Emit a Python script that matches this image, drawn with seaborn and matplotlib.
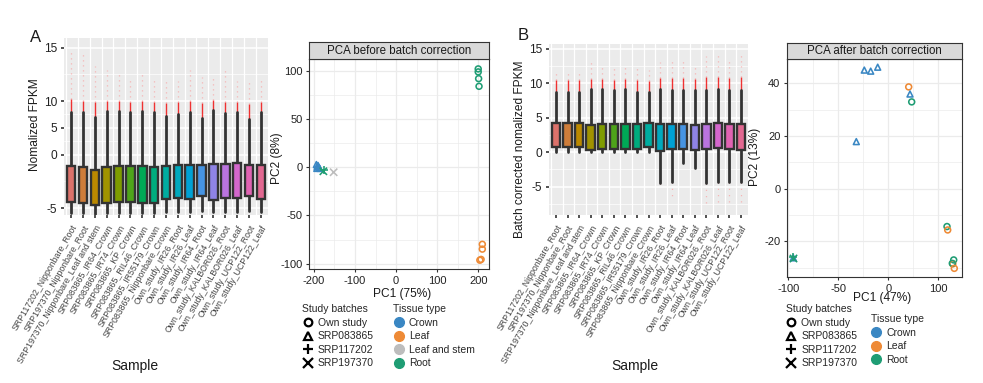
import numpy as np
import matplotlib
matplotlib.use("Agg")
import matplotlib.pyplot as plt
import seaborn as sns
import pandas as pd
from matplotlib.lines import Line2D
from matplotlib.ticker import FixedLocator, FuncFormatter, NullFormatter

# -----------------------------
# Data
# -----------------------------
samples = [
    "SRP117202_Nipponbare_Root", "SRP197370_Nipponbare_Root",
    "SRP197370_Nipponbare_Leaf and stem", "SRP083865_IR64_Crown",
    "SRP083865_IR74_Crown", "SRP083865_KP_Crown", "SRP083865_RIL46_Crown",
    "SRP083865_IR55179_Crown", "SRP083865_Nipponbare_Crown",
    "Own_study_IR26_Root", "Own_study_IR26_Leaf", "Own_study_IR64_Root",
    "Own_study_IR64_Leaf", "Own_study_KALBOR026_Root",
    "Own_study_KALBOR026_Leaf", "Own_study_UCP122_Root", "Own_study_UCP122_Leaf",
]
batch = ["SRP117202", "SRP197370", "SRP197370"] + ["SRP083865"] * 6 + ["Own study"] * 8
tissue = ["Root", "Root", "Leaf and stem"] + ["Crown"] * 6 + ["Root", "Leaf"] * 4

# panel A: normalized FPKM (box summary)
a_q1 = [-4.41, -4.51, -4.72, -4.51, -4.44, -4.44, -4.51, -4.51, -4.20,
        -4.10, -4.20, -3.89, -4.26, -4.10, -4.04, -3.89, -4.20]
a_med = [-2.65, -2.72, -3.12, -2.72, -2.65, -2.72, -2.72, -2.72, -2.53,
         -2.41, -2.41, -2.41, -2.25, -2.35, -2.25, -2.41, -2.41]
a_q3 = [-1.08, -1.17, -1.48, -1.17, -1.11, -1.11, -1.11, -1.17, -1.08,
        -0.96, -0.96, -1.02, -0.86, -0.86, -0.80, -1.02, -0.96]
a_whislo = [-5.5, -5.5, -5.6, -5.5, -5.5, -5.5, -5.5, -5.5, -5.4,
            -5.4, -5.4, -5.3, -5.4, -5.4, -5.4, -5.3, -5.4]
a_whishi = [7.9, 7.9, 7.0, 8.2, 8.2, 7.9, 8.2, 8.0, 7.25,
            7.6, 7.9, 6.8, 8.4, 7.8, 7.9, 6.6, 7.9]
a_out_dense = [10.2, 10.0, 9.8, 10.0, 10.0, 9.9, 10.0, 9.9, 9.7,
               9.8, 10.0, 9.6, 10.1, 9.9, 9.9, 9.5, 9.9]
a_out_max = [14.85, 14.6, 13.3, 12.9, 12.8, 12.3, 12.7, 12.3, 11.9,
             11.85, 12.9, 12.3, 12.4, 12.9, 11.9, 12.1, 12.2]

# panel B: batch corrected normalized FPKM (box summary)
b_q1 = [0.72, 0.72, 0.72, 0.35, 0.49, 0.49, 0.49, 0.49, 0.82,
        0.24, 0.49, 0.49, 0.35, 0.49, 0.63, 0.49, 0.35]
b_med = [2.74, 2.74, 2.74, 2.50, 2.65, 2.65, 2.65, 2.65, 2.88,
         2.50, 2.50, 2.50, 2.50, 2.50, 2.65, 2.65, 2.65]
b_q3 = [4.18, 4.18, 4.18, 3.94, 4.09, 4.09, 4.09, 4.09, 4.18,
        4.09, 4.09, 4.09, 3.94, 4.09, 4.18, 4.09, 4.09]
b_whislo = [0.0, 0.0, 0.0, 0.0, 0.0, 0.0, 0.0, 0.0, 0.0,
            -4.47, -4.3, -1.6, -2.25, -4.47, -4.3, -4.3, -4.3]
b_whishi = [8.75, 8.75, 8.75, 9.2, 9.2, 9.0, 9.2, 8.75, 8.75,
            9.2, 9.0, 9.0, 9.0, 9.0, 9.2, 9.0, 9.0]
b_out_dense = [10.5, 10.5, 10.5, 10.6, 10.6, 10.5, 10.6, 10.5, 10.4,
               10.8, 10.8, 10.7, 10.6, 10.9, 10.9, 10.8, 10.9]
b_out_max = [12.0, 12.0, 12.0, 13.1, 12.8, 12.2, 12.8, 12.3, 12.0,
             13.1, 13.2, 13.2, 12.6, 13.9, 14.1, 13.7, 14.1]
b_out_min = [np.nan] * 9 + [-5.4, -6.8, np.nan, np.nan, -7.5, -7.9, -7.6, -7.8]

# PCA coordinates
pc1_before = [-176, -177, -152, -194, -192, -190, -188, -193, -186,
              200, 210, 200, 210, 201, 204, 202, 207]
pc2_before = [-3, -4, -5, 3, 1, 2, 0, -1, -1,
              102.5, -80, 99.4, -85, 92.4, -96.5, 84.4, -95.7]
pc1_after = [-95, -95, np.nan, -24, -17.6, -10.6, -32, 43.4, -95,
             46.8, 40.8, 117.4, 118.8, 130.8, 129, 128, 132]
pc2_after = [-26, -26.5, np.nan, 45.1, 44.7, 46.2, 17.9, 36, -26.3,
             33, 38.7, -14.4, -15.7, -27.1, -28.6, -28.4, -30.3]

batch_markers = {"Own study": "o", "SRP083865": "^", "SRP117202": "+", "SRP197370": "x"}
tissue_colors = {"Crown": "#3A87C3", "Leaf": "#EE8A36",
                 "Leaf and stem": "#BDBDBD", "Root": "#1F9D74"}


def hue_pal(n, c=80, l=60):
    # ggplot2-style discrete palette (HCL hues), a little muted
    out = []
    for h in np.linspace(15, 375, n + 1)[:-1]:
        hr = np.deg2rad(h)
        U, V = c * np.cos(hr), c * np.sin(hr)
        XN, YN, ZN = 95.047, 100.0, 108.883
        Y = YN * ((l + 16) / 116) ** 3
        t = XN + YN + ZN
        x, y = XN / t, YN / t
        uN = 2 * x / (6 * y - x + 1.5)
        vN = 4.5 * y / (6 * y - x + 1.5)
        Q = U / (13 * l) + uN
        R = V / (13 * l) + vN
        X = 9.0 * Y * Q / (4.0 * R)
        Z = -X / 3.0 - 5.0 * Y + 3.0 * Y / R
        rgb = np.array([3.240479 * X - 1.537150 * Y - 0.498535 * Z,
                        -0.969256 * X + 1.875992 * Y + 0.041556 * Z,
                        0.055648 * X - 0.204043 * Y + 1.057311 * Z]) / YN
        rgb = np.where(rgb <= 0.0031308, 12.92 * rgb, 1.055 * np.abs(rgb) ** (1 / 2.4) - 0.055)
        out.append(tuple(np.clip(rgb, 0, 1)))
    return out


box_colors = hue_pal(len(samples))

# -----------------------------
# Figure
# -----------------------------
sns.set_theme(style="white")
plt.rcParams["font.family"] = ["Liberation Sans", "DejaVu Sans"]
plt.rcParams["axes.unicode_minus"] = False

W, H = 983, 383
fig = plt.figure(figsize=(W / 100, H / 100), dpi=100)


def px_axes(x0, y0, x1, y1):
    return fig.add_axes([x0 / W, 1 - y1 / H, (x1 - x0) / W, (y1 - y0) / H])


def draw_box(ax, q1, med, q3, lo, hi, dense, omax, omin=None):
    pos = np.arange(len(samples))
    ax.set_facecolor("#EBEBEB")
    for s in ax.spines.values():
        s.set_visible(False)
    ax.vlines(pos, hi, dense, colors="#F01010", lw=1.0, alpha=0.85, zorder=1.5)
    ax.vlines(pos, dense, omax, colors="#FF8080", lw=0.9, alpha=0.5,
              linestyles=(0, (1, 3)), zorder=1.5)
    if omin is not None:
        ax.vlines(pos, lo, omin, colors="#FF8080", lw=0.9, alpha=0.5,
                  linestyles=(0, (1, 4)), zorder=1.5)
    stats = [dict(med=m, q1=a, q3=b, whislo=w1, whishi=w2, fliers=[])
             for a, m, b, w1, w2 in zip(q1, med, q3, lo, hi)]
    bp = ax.bxp(stats, positions=pos, widths=0.72, patch_artist=True,
                showfliers=False, showcaps=False,
                boxprops=dict(edgecolor="#333333", linewidth=1.7),
                medianprops=dict(color="#333333", linewidth=2.6, solid_capstyle="butt"),
                whiskerprops=dict(color="#333333", linewidth=2.0))
    for patch, col in zip(bp["boxes"], box_colors):
        patch.set_facecolor(col)
        patch.set_zorder(3)
    ax.set_xlim(-0.6, len(samples) - 0.4)
    ax.set_xticks(pos)
    ax.set_xticklabels(samples, rotation=60, ha="right", va="top",
                       rotation_mode="anchor")
    ax.xaxis.set_minor_locator(FixedLocator(pos - 0.43))
    ax.grid(False)
    ax.grid(which="minor", axis="x", color="white", lw=0.9)
    ax.grid(which="major", axis="y", color="white", lw=1.1)
    ax.grid(which="minor", axis="y", color="white", lw=0.5)
    ax.set_axisbelow(True)
    ax.tick_params(which="major", length=2, width=1.2, color="#333333",
                   bottom=True, left=True)
    ax.tick_params(axis="y", labelsize=8.6, labelcolor="#222222", pad=3)
    ax.tick_params(axis="x", labelsize=6.3, labelcolor="#444444", pad=4)
    ax.tick_params(which="minor", length=0)


# ---- Panel A: boxplot with stretched scale
axA = px_axes(64, 38, 268, 215)
axA.set_yscale("function", functions=(
    lambda v: np.interp(v, [-1e3, 0, 10, 1e3], [-1e3, 0, 5, 995]),
    lambda p: np.interp(p, [-1e3, 0, 5, 995], [-1e3, 0, 10, 1e3])))
draw_box(axA, a_q1, a_med, a_q3, a_whislo, a_whishi, a_out_dense, a_out_max)
axA.set_ylim(-5.65, 15.9)
axA.yaxis.set_major_locator(FixedLocator([-5, 0, 5, 10, 15]))
axA.yaxis.set_minor_locator(FixedLocator([-2.5, 2.5, 7.5, 12.5]))
axA.yaxis.set_major_formatter(FuncFormatter(lambda v, p: f"{v:g}"))
axA.yaxis.set_minor_formatter(NullFormatter())

# ---- Panel B: boxplot
axB = px_axes(549, 44, 748, 215)
draw_box(axB, b_q1, b_med, b_q3, b_whislo, b_whishi, b_out_dense, b_out_max, b_out_min)
axB.set_ylim(-9.1, 15.7)
axB.yaxis.set_major_locator(FixedLocator([-5, 0, 5, 10, 15]))
axB.yaxis.set_minor_locator(FixedLocator([-7.5, -2.5, 2.5, 7.5, 12.5]))


# ---- PCA panels
def draw_pca(ax, sax, x, y, title):
    df = pd.DataFrame({"PC1": x, "PC2": y, "batch": batch, "tissue": tissue}).dropna()
    ax.set_facecolor("white")
    for b, m in batch_markers.items():
        sub = df[df["batch"] == b]
        if sub.empty:
            continue
        sns.scatterplot(data=sub, x="PC1", y="PC2", hue="tissue", palette=tissue_colors,
                        marker=m, s=18 if m in "o^" else 28, linewidth=1.15,
                        legend=False, ax=ax, zorder=3)
        coll = ax.collections[-1]
        if m in "o^":
            coll.set_edgecolors(coll.get_facecolors())
            coll.set_facecolors("none")
    for s in ax.spines.values():
        s.set_color("#333333")
        s.set_linewidth(0.8)
    ax.grid(which="major", color="#EBEBEB", lw=0.9)
    ax.grid(which="minor", color="#EBEBEB", lw=0.5)
    ax.set_axisbelow(True)
    ax.tick_params(which="major", length=2.5, width=0.8, color="#333333",
                   labelsize=8, labelcolor="#222222", pad=2, bottom=True, left=True)
    ax.tick_params(which="minor", length=0)
    ax.set_xlabel("")
    ax.set_ylabel("")
    sax.set_facecolor("#D9D9D9")
    sax.set_xticks([])
    sax.set_yticks([])
    for s in sax.spines.values():
        s.set_color("#333333")
        s.set_linewidth(0.8)
    sax.text(0.5, 0.48, title, ha="center", va="center", fontsize=8.3,
             color="#1A1A1A", transform=sax.transAxes)


axP1 = px_axes(309, 59.3, 489.3, 269.3)
sP1 = px_axes(309, 41.7, 489.3, 59.3)
draw_pca(axP1, sP1, pc1_before, pc2_before, "PCA before batch correction")
axP1.set_xlim(-212, 227)
axP1.set_ylim(-106, 112.5)
axP1.xaxis.set_major_locator(FixedLocator([-200, -100, 0, 100, 200]))
axP1.xaxis.set_minor_locator(FixedLocator([-150, -50, 50, 150]))
axP1.yaxis.set_major_locator(FixedLocator([-100, -50, 0, 50, 100]))
axP1.yaxis.set_minor_locator(FixedLocator([-75, -25, 25, 75]))

axP2 = px_axes(786.7, 59.3, 962.3, 277.3)
sP2 = px_axes(786.7, 42.7, 962.3, 59.3)
axP2.set_xscale("function", functions=(
    lambda v: np.interp(v, [-1e3, 0, 1e3], [-1e3, 0, 500]),
    lambda p: np.interp(p, [-1e3, 0, 500], [-1e3, 0, 1e3])))
draw_pca(axP2, sP2, pc1_after, pc2_after, "PCA after batch correction")
axP2.set_xlim(-101.6, 148)
axP2.set_ylim(-33.7, 49.2)
axP2.xaxis.set_major_locator(FixedLocator([-100, -50, 0, 100]))
axP2.xaxis.set_minor_locator(FixedLocator([-75, -25, 50]))
axP2.xaxis.set_major_formatter(FuncFormatter(lambda v, p: f"{v:g}"))
axP2.xaxis.set_minor_formatter(NullFormatter())
axP2.yaxis.set_major_locator(FixedLocator([-20, 0, 20, 40]))
axP2.yaxis.set_minor_locator(FixedLocator([-30, -10, 10, 30]))


# ---- Text labels
def ftext(x, y, s, **kw):
    fig.text(x / W, 1 - y / H, s, ha="center", va="center", color="#1A1A1A", **kw)


ftext(36, 37, "A", fontsize=12)
ftext(523, 35, "B", fontsize=12)
ftext(35, 125, "Nomalized FPKM", fontsize=8.6, rotation=90)
ftext(520, 149, "Batch corrected nomalized FPKM", fontsize=8.6, rotation=90)
ftext(135, 366, "Sample", fontsize=10)
ftext(635, 366, "Sample", fontsize=10)
ftext(277, 158, "PC2 (8%)", fontsize=8.6, rotation=90)
ftext(402, 294, "PC1 (75%)", fontsize=8.6)
ftext(755, 157, "PC2 (13%)", fontsize=8.6, rotation=90)
ftext(882, 298, "PC1 (47%)", fontsize=8.6)


# ---- Legends
def shape_handles():
    hs = []
    for b, m in batch_markers.items():
        hs.append(Line2D([], [], ls="", marker=m, mfc="none", mec="black",
                         mew=1.6, ms=5.5 if m in "o^" else 6.5))
    return hs, list(batch_markers)


def tissue_handles(names):
    return ([Line2D([], [], ls="", marker="o", mfc=tissue_colors[n],
                    mec=tissue_colors[n], ms=7) for n in names], names)


def add_legend(handles, labels, title, x, y):
    fig.legend(handles, labels, title=title, loc="upper left",
               bbox_to_anchor=(x / W, 1 - y / H), frameon=False, alignment="left",
               fontsize=7.5, title_fontsize=7.5, handletextpad=0.4,
               labelspacing=0.33, borderpad=0, borderaxespad=0, handlelength=1.1)


h, l = shape_handles()
add_legend(h, l, "Study batches", 302, 304.5)
h, l = tissue_handles(["Crown", "Leaf", "Leaf and stem", "Root"])
add_legend(h, l, "Tissue type", 393, 304.5)
h, l = shape_handles()
add_legend(h, l, "Study batches", 785.7, 304.5)
h, l = tissue_handles(["Crown", "Leaf", "Root"])
add_legend(h, l, "Tissue type", 870.7, 314.5)

fig.savefig("out.png", dpi=100)
